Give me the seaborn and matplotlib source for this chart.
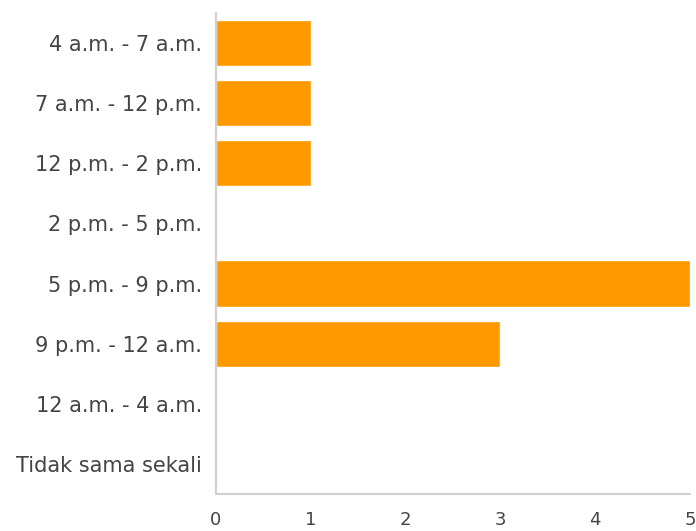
import matplotlib
matplotlib.use("Agg")
import matplotlib.pyplot as plt
import seaborn as sns
import pandas as pd

categories = [
    "4 a.m. - 7 a.m.",
    "7 a.m. - 12 p.m.",
    "12 p.m. - 2 p.m.",
    "2 p.m. - 5 p.m.",
    "5 p.m. - 9 p.m.",
    "9 p.m. - 12 a.m.",
    "12 a.m. - 4 a.m.",
    "Tidak sama sekali",
]
counts = [1, 1, 1, 0, 5, 3, 0, 0]
x_ticks = [0, 1, 2, 3, 4, 5]

df = pd.DataFrame({"waktu": categories, "jumlah": counts})

sns.set_theme(style="white")
plt.rcParams["font.family"] = ["DejaVu Sans"]

fig = plt.figure(figsize=(6.96, 5.31), dpi=100)
ax = fig.add_axes([0.3103, 0.0697, 0.6810, 0.9058])

sns.barplot(data=df, x="jumlah", y="waktu", order=categories,
            color="#FF9900", saturation=1, width=0.77, ax=ax)

ax.set_xlim(0, 5)
ax.set_ylim(len(categories) - 0.5, -0.5)
ax.set_xticks(x_ticks)
ax.set_xlabel("")
ax.set_ylabel("")

for side in ["top", "right"]:
    ax.spines[side].set_visible(False)
for side in ["left", "bottom"]:
    ax.spines[side].set_color("#d0d0d0")
    ax.spines[side].set_linewidth(1.5)

ax.tick_params(axis="y", length=0, pad=10, labelsize=15, labelcolor="#444444")
ax.tick_params(axis="x", length=3, color="#e0e0e0", pad=9, labelsize=13,
               labelcolor="#444444")

fig.savefig("out.png", dpi=100)
